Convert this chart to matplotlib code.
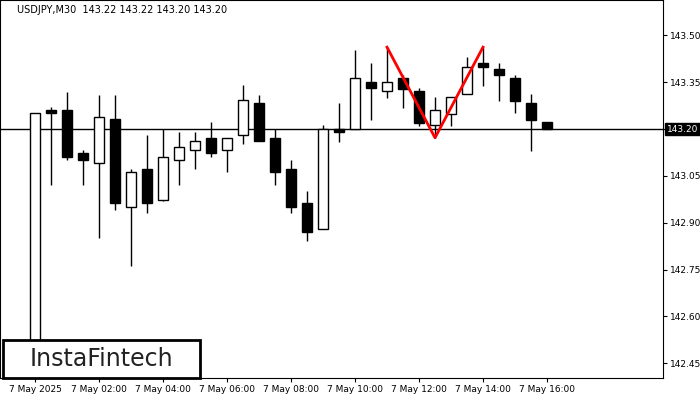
import matplotlib
matplotlib.use("Agg")
import matplotlib.pyplot as plt
import numpy as np

opens  = [142.35,143.261,143.26,143.123,143.09,143.232,142.95,143.072,142.973,143.10,143.133,143.171,143.133,143.18,143.283,143.171,143.072,142.963,142.88,143.20,143.20,143.35,143.322,143.363,143.322,143.213,143.248,143.312,143.411,143.392,143.363,143.283,143.222]
closes = [143.25,143.251,143.11,143.10,143.24,142.963,143.062,142.963,143.11,143.142,143.162,143.123,143.171,143.293,143.162,143.062,142.95,142.87,143.20,143.19,143.363,143.331,143.35,143.328,143.219,143.26,143.302,143.40,143.40,143.373,143.29,143.229,143.20]
highs  = [143.25,143.27,143.32,143.133,143.31,143.31,143.072,143.18,143.20,143.19,143.19,143.222,143.171,143.34,143.31,143.20,143.10,143.00,143.213,143.283,143.453,143.411,143.462,143.373,143.331,143.302,143.302,143.43,143.462,143.411,143.373,143.312,143.222]
lows   = [142.30,143.021,143.10,143.02,142.85,142.94,142.76,142.93,142.97,143.02,143.072,143.11,143.062,143.152,143.162,143.02,142.93,142.84,142.88,143.158,143.20,143.229,143.30,143.267,143.21,143.171,143.21,143.312,143.338,143.29,143.25,143.13,143.20]
pattern_x = [22, 25, 28]
pattern_y = [143.462, 143.172, 143.462]
current_price = 143.20
yticks = [142.45,142.60,142.75,142.90,143.05,143.35,143.50]
xtick_idx = [0,4,8,12,16,20,24,28,32]
xtick_labels = ["7 May 2025","7 May 02:00","7 May 04:00","7 May 06:00","7 May 08:00","7 May 10:00","7 May 12:00","7 May 14:00","7 May 16:00"]

fig = plt.figure(figsize=(7,4), dpi=100)
ax = fig.add_axes([0, 22/400, 663/700, 378/400])
x = np.arange(len(opens))
o = np.array(opens); c = np.array(closes)
ax.vlines(x, lows, highs, color="black", lw=1, zorder=2)
bot = np.minimum(o, c); h = np.maximum(np.abs(c-o), 0.002)
cols = ["white" if cc > oo else "black" for oo, cc in zip(o, c)]
ax.bar(x, h, bottom=bot, width=0.62, color=cols, edgecolor="black", lw=1, zorder=3)
ax.axhline(current_price, color="black", lw=1, zorder=1)
ax.plot(pattern_x, pattern_y, color="red", lw=2, zorder=4)
ax.set_xlim(-2.19, 39.25)
ax.set_ylim(142.403, 143.613)
ax.yaxis.tick_right()
ax.set_yticks(yticks + [current_price])
ax.set_yticklabels([f"{v:.2f}" for v in yticks] + [""], fontsize=6.5)
ax.set_xticks(xtick_idx)
ax.set_xticklabels(xtick_labels, fontsize=6.5)
ax.tick_params(length=3, pad=2)
ax.annotate(f"{current_price:.2f}", xy=(1, current_price), xycoords=("axes fraction","data"), xytext=(3,0),
            textcoords="offset points", va="center", ha="left", fontsize=6.5, color="white",
            bbox=dict(boxstyle="square,pad=0.2", fc="black", ec="black"))
fig.text(17/700, 1-10/400, "USDJPY,M30  143.22 143.22 143.20 143.20", fontsize=7, va="center")
fig.patches.append(matplotlib.patches.Rectangle((3/700, 22/400), 197/700, 38/400, transform=fig.transFigure,
                   fc="white", ec="black", lw=2, zorder=10))
fig.text(101/700, 41/400, "InstaFintech", fontsize=17, ha="center", va="center", color="#222222", zorder=11)
fig.savefig("out.png")
